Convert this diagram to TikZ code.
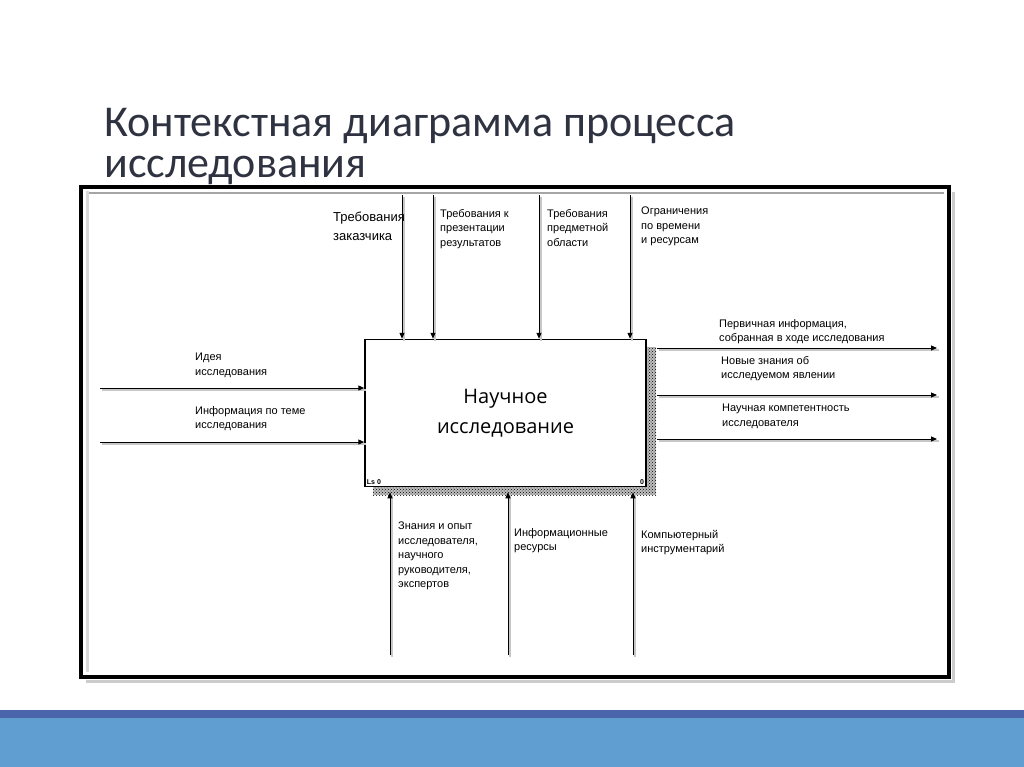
\documentclass[tikz,border=0pt]{standalone}
\usepackage{fontspec}
\setmainfont{Liberation Sans}
\newfontfamily\titlefont{Carlito}
\newfontfamily\boxfont{Open Sans}
\usetikzlibrary{arrows.meta,patterns}
\definecolor{titlegray}{RGB}{47,50,64}
\definecolor{banddark}{RGB}{74,101,172}
\definecolor{bandlight}{RGB}{96,157,209}

\begin{document}
\begin{tikzpicture}[x=1pt,y=-1pt,
  arr/.style={line width=1pt, -{Triangle[length=6pt,width=5pt]},
    preaction={draw=black!22, line width=2.5pt, -, transform canvas={shift={(2pt,-2pt)}}}},
  lab/.style={anchor=north west, inner sep=0pt, align=left, font=\fontsize{11}{14.5}\selectfont},
  box/.style={draw, line width=1.5pt, fill=white, minimum width=281pt, minimum height=147pt,
    inner sep=0pt, align=center, font=\boxfont\fontsize{20}{30}\selectfont},
  titl/.style={anchor=base west, inner sep=0pt, text=titlegray, font=\titlefont\fontsize{44}{41}\selectfont},
  corner/.style={inner sep=2.5pt, font=\bfseries\fontsize{7}{8}\selectfont}]

  % фон и полосы внизу
  \fill[white] (0,0) rectangle (1024,767);
  \fill[banddark] (0,710) rectangle (1024,718);
  \fill[bandlight] (0,718) rectangle (1024,767);

  % заголовок
  \node[titl] (title1) at (104,137) {Контекстная диаграмма процесса};
  \node[titl] (title2) at (104,178) {исследования};

  % рамка диаграммы
  \draw[black!20, line width=3pt] (953,192) -- (953,681) -- (86,681);
  \draw[black!35, line width=1.5pt] (86,193) -- (944,193);
  \draw[black!15, line width=3pt] (87,191) -- (87,672);
  \draw[line width=4pt] (81,187) rectangle (949,677);

  % блок и его тень
  \fill[black!25] (373,347) rectangle (656,495);
  \fill[pattern=crosshatch dots, pattern color=black] (373,347) rectangle (656,495);
  \node[box] (box) at (505.5,413) {\raisebox{2pt}{Научное}\\\raisebox{2pt}{исследование}};
  \node[corner, anchor=south west] (ls) at (box.south west) {Ls 0};
  \node[corner, anchor=south east] (num) at (box.south east) {0};

  % управление (сверху)
  \coordinate (c1) at (402,195);
  \coordinate (c2) at (433,195);
  \coordinate (c3) at (539,195);
  \coordinate (c4) at (630,195);
  \foreach \c in {c1,c2,c3,c4}
    \draw[arr] (\c) -- (\c |- box.north);

  % входы (слева)
  \coordinate (i1) at (100,388);
  \coordinate (i2) at (100,442);
  \foreach \i in {i1,i2}
    \draw[arr] (\i) -- (\i -| box.west);

  % выходы (справа)
  \coordinate (shE) at ([xshift=10pt]box.east);
  \coordinate (o1) at (937,348);
  \coordinate (o2) at (937,395);
  \coordinate (o3) at (937,439);
  \foreach \o in {o1,o2,o3}
    \draw[arr] (shE |- \o) -- (\o);

  % механизмы (снизу)
  \coordinate (shS) at ([yshift=-5pt]box.south);
  \coordinate (m1) at (390,655);
  \coordinate (m2) at (508,655);
  \coordinate (m3) at (633,655);
  \foreach \m in {m1,m2,m3}
    \draw[arr] (\m) -- (\m |- shS);

  % подписи
  \node[lab, font=\fontsize{13}{19}\selectfont] (t1) at (333,212) {Требования\\заказчика};
  \node[lab] (t2) at (440,209) {Требования к\\презентации\\результатов};
  \node[lab] (t3) at (547,209) {Требования\\предметной\\области};
  \node[lab] (t4) at (641,207) {Ограничения\\по времени\\и ресурсам};

  \node[lab] (l1) at (195,353) {Идея\\исследования};
  \node[lab] (l2) at (195,406) {Информация по теме\\исследования};

  \node[lab] (r1) at (719,319) {Первичная информация,\\собранная в ходе исследования};
  \node[lab] (r2) at (721,356) {Новые знания об\\исследуемом явлении};
  \node[lab] (r3) at (722,404) {Научная компетентность\\исследователя};

  \node[lab] (b1) at (398,522) {Знания и опыт\\исследователя,\\научного\\руководителя,\\экспертов};
  \node[lab] (b2) at (514,528) {Информационные\\ресурсы};
  \node[lab] (b3) at (641,530) {Компьютерный\\инструментарий};
\end{tikzpicture}
\end{document}
